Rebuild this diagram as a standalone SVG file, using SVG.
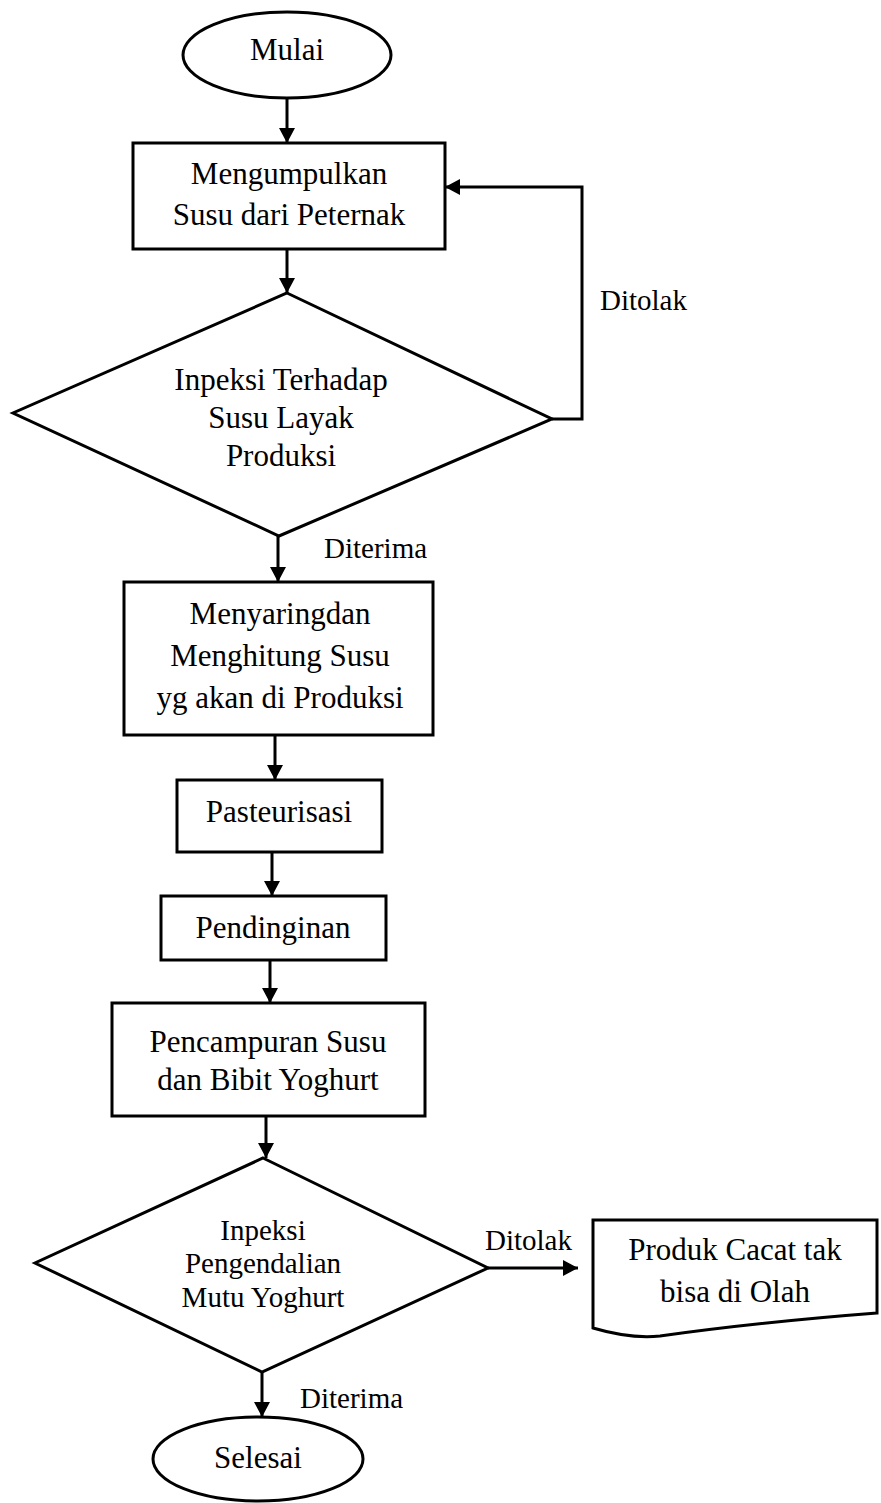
<svg xmlns="http://www.w3.org/2000/svg" width="881" height="1503" viewBox="0 0 881 1503">
  <defs>
    <marker id="arrow" markerUnits="userSpaceOnUse" markerWidth="16" markerHeight="16" refX="15" refY="8" orient="auto">
      <path d="M0,0 L15,8 L0,16 Z" fill="#000"/>
    </marker>
    <style>
      .shape { fill: #fff; stroke: #000; stroke-width: 3; stroke-linejoin: miter; }
      .link { fill: none; stroke: #000; stroke-width: 3; }
      .txt { font-family: "Liberation Serif", "Times New Roman", serif; font-size: 31px; fill: #000; text-anchor: middle; }
      .sm { font-size: 29px; }
      .lbl { font-family: "Liberation Serif", "Times New Roman", serif; font-size: 29px; fill: #000; }
    </style>
  </defs>

  <rect width="881" height="1503" fill="#fff"/>

  <!-- connectors -->
  <g id="connectors">
    <line class="link" x1="287" y1="98" x2="287" y2="143" marker-end="url(#arrow)"/>
    <line class="link" x1="287" y1="249" x2="287" y2="293" marker-end="url(#arrow)"/>
    <polyline class="link" points="552,419 582,419 582,187 445,187" marker-end="url(#arrow)"/>
    <line class="link" x1="278" y1="536" x2="278" y2="582" marker-end="url(#arrow)"/>
    <line class="link" x1="275" y1="735" x2="275" y2="780" marker-end="url(#arrow)"/>
    <line class="link" x1="272" y1="852" x2="272" y2="896" marker-end="url(#arrow)"/>
    <line class="link" x1="270" y1="960" x2="270" y2="1003" marker-end="url(#arrow)"/>
    <line class="link" x1="266" y1="1116" x2="266" y2="1158" marker-end="url(#arrow)"/>
    <line class="link" x1="488" y1="1268" x2="578" y2="1268" marker-end="url(#arrow)"/>
    <line class="link" x1="262" y1="1372" x2="262" y2="1417" marker-end="url(#arrow)"/>
    <text class="lbl" x="600" y="310">Ditolak</text>
    <text class="lbl" x="324" y="558">Diterima</text>
    <text class="lbl" x="485" y="1250">Ditolak</text>
    <text class="lbl" x="300" y="1408">Diterima</text>
  </g>

  <!-- start -->
  <g id="mulai">
    <ellipse class="shape" cx="287" cy="55" rx="104" ry="43"/>
    <text class="txt" x="287" y="60">Mulai</text>
  </g>

  <g id="mengumpulkan">
    <rect class="shape" x="133" y="143" width="312" height="106"/>
    <text class="txt" x="289" y="184">Mengumpulkan</text>
    <text class="txt" x="289" y="225">Susu dari Peternak</text>
  </g>

  <g id="inspeksi-susu">
    <polygon class="shape" points="287,293 552,419 279,536 13,413"/>
    <text class="txt" x="281" y="390">Inpeksi Terhadap</text>
    <text class="txt" x="281" y="428">Susu Layak</text>
    <text class="txt" x="281" y="466">Produksi</text>
  </g>

  <g id="menyaring">
    <rect class="shape" x="124" y="582" width="309" height="153"/>
    <text class="txt" x="280" y="624">Menyaringdan</text>
    <text class="txt" x="280" y="666">Menghitung Susu</text>
    <text class="txt" x="280" y="708">yg akan di Produksi</text>
  </g>

  <g id="pasteurisasi">
    <rect class="shape" x="177" y="780" width="205" height="72"/>
    <text class="txt" x="279" y="822">Pasteurisasi</text>
  </g>

  <g id="pendinginan">
    <rect class="shape" x="161" y="896" width="225" height="64"/>
    <text class="txt" x="273" y="938">Pendinginan</text>
  </g>

  <g id="pencampuran">
    <rect class="shape" x="112" y="1003" width="313" height="113"/>
    <text class="txt" x="268" y="1052">Pencampuran Susu</text>
    <text class="txt" x="268" y="1090">dan Bibit Yoghurt</text>
  </g>

  <g id="inspeksi-yoghurt">
    <polygon class="shape" points="263,1158 488,1268 262,1372 35,1263"/>
    <text class="txt sm" x="263" y="1240">Inpeksi</text>
    <text class="txt sm" x="263" y="1273">Pengendalian</text>
    <text class="txt sm" x="263" y="1307">Mutu Yoghurt</text>
  </g>

  <g id="produk-cacat">
    <path class="shape" d="M593,1220 L877,1220 L877,1313 Q760,1322 660,1336 Q630,1339 593,1328 Z"/>
    <text class="txt" x="735" y="1260">Produk Cacat tak</text>
    <text class="txt" x="735" y="1302">bisa di Olah</text>
  </g>

  <g id="selesai">
    <ellipse class="shape" cx="258" cy="1459" rx="105" ry="42"/>
    <text class="txt" x="258" y="1468">Selesai</text>
  </g>
</svg>
